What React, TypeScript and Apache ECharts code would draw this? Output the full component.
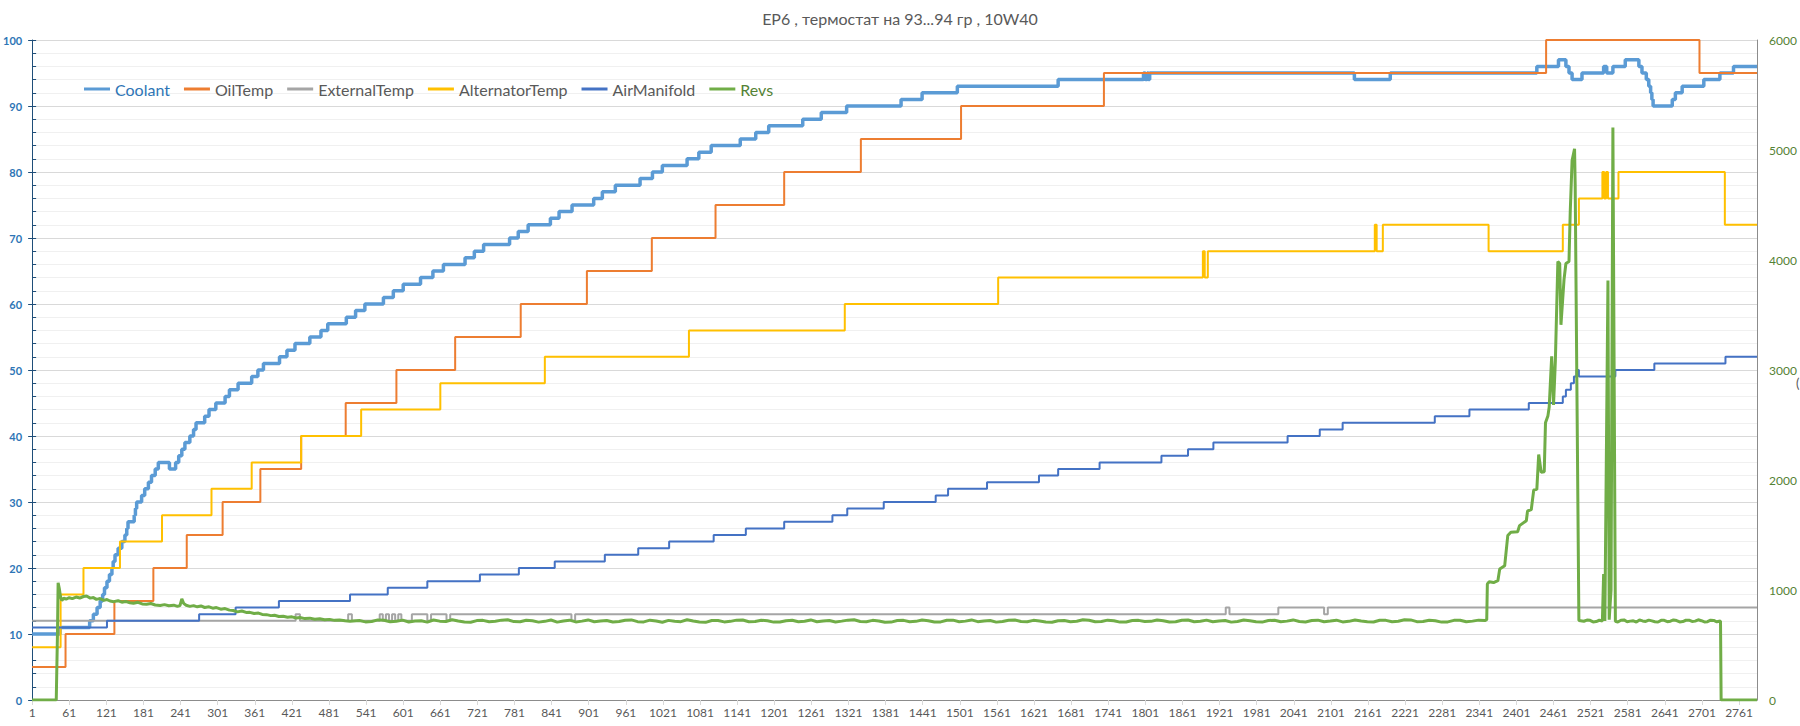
import React, { useEffect, useRef } from "react";
import * as echarts from "echarts";

const TITLE = "EP6 , термостат на 93...94 гр , 10W40";
const SAMPLE_COUNT = 2790;
const CATEGORIES: string[] = Array.from({ length: SAMPLE_COUNT }, (_, i) => String(i + 1));

const SERIES_NAMES = ["Coolant", "OilTemp", "ExternalTemp", "AlternatorTemp", "AirManifold", "Revs"];
const LEFT_TICKS = [0, 100, 10];
const RIGHT_TICKS = [0, 6000, 1000];

// [sample number, value] : value holds from this sample until the next break
const COOLANT: [number, number][] = [
  [1, 10], [46, 11], [94, 12], [100, 13], [106, 14], [111, 15], [115, 16], [118, 17], [122, 18], [126, 19],
  [130, 20], [132, 21], [135, 22], [140, 23], [146, 24], [151, 25], [154, 26], [156, 27], [166, 28], [168, 29],
  [170, 30], [178, 31], [183, 32], [189, 33], [194, 34], [200, 35], [205, 36], [223, 35], [233, 36], [238, 37],
  [243, 38], [248, 39], [256, 40], [262, 41], [266, 42], [280, 43], [287, 44], [298, 45], [313, 46], [320, 47],
  [334, 48], [356, 49], [366, 50], [375, 51], [401, 52], [413, 53], [426, 54], [450, 55], [468, 56], [479, 57],
  [509, 58], [524, 59], [539, 60], [569, 61], [585, 62], [601, 63], [629, 64], [649, 65], [666, 66], [701, 67],
  [716, 68], [731, 69], [773, 70], [787, 71], [803, 72], [839, 73], [853, 74], [874, 75], [909, 76], [923, 77],
  [944, 78], [984, 79], [1004, 80], [1020, 81], [1060, 82], [1079, 83], [1099, 84], [1146, 85], [1171, 86], [1192, 87],
  [1247, 88], [1277, 89], [1318, 90], [1406, 91], [1440, 92], [1497, 93], [1660, 94], [1798, 95], [1801, 94], [1804, 95],
  [1806, 94], [1808, 95], [2139, 94], [2197, 95], [2434, 96], [2469, 97], [2481, 96], [2486, 95], [2491, 94], [2507, 95],
  [2542, 96], [2547, 95], [2557, 96], [2577, 97], [2599, 96], [2604, 95], [2611, 94], [2615, 93], [2618, 92], [2620, 91],
  [2622, 90], [2653, 91], [2658, 92], [2669, 93], [2704, 94], [2730, 95], [2752, 96], [2790, 96],
];

const OIL_TEMP: [number, number][] = [
  [1, 5], [55, 10], [134, 15], [197, 20], [251, 25], [309, 30], [370, 35], [436, 40], [508, 45], [590, 50],
  [685, 55], [791, 60], [898, 65], [1003, 70], [1106, 75], [1217, 80], [1341, 85], [1503, 90], [1734, 95], [2449, 100],
  [2697, 95], [2790, 95],
];

const EXTERNAL_TEMP: [number, number][] = [
  [1, 12], [427, 13], [434, 12], [512, 13], [518, 12], [563, 13], [568, 12], [573, 13], [578, 12], [583, 13],
  [588, 12], [593, 13], [598, 12], [615, 13], [640, 12], [646, 13], [671, 12], [677, 13], [873, 12], [879, 13],
  [1931, 14], [1937, 13], [2016, 14], [2090, 13], [2096, 14], [2790, 14],
];

const ALTERNATOR_TEMP: [number, number][] = [
  [1, 8], [47, 16], [84, 20], [143, 24], [211, 28], [291, 32], [356, 36], [436, 40], [533, 44], [661, 48],
  [830, 52], [1063, 56], [1315, 60], [1563, 64], [1894, 68], [1897, 64], [1902, 68], [2172, 72], [2175, 68], [2185, 72],
  [2356, 68], [2476, 72], [2502, 76], [2540, 80], [2543, 76], [2546, 80], [2549, 76], [2566, 80], [2738, 72], [2790, 72],
];

const AIR_MANIFOLD: [number, number][] = [
  [1, 11], [122, 12], [271, 13], [330, 14], [400, 15], [515, 16], [576, 17], [640, 18], [725, 19], [788, 20],
  [846, 21], [927, 22], [981, 23], [1031, 24], [1103, 25], [1155, 26], [1217, 27], [1295, 28], [1319, 29], [1378, 30],
  [1462, 31], [1482, 32], [1545, 33], [1629, 34], [1660, 35], [1727, 36], [1827, 37], [1870, 38], [1911, 39], [2031, 40],
  [2083, 41], [2120, 42], [2269, 43], [2325, 44], [2421, 45], [2476, 46], [2481, 47], [2489, 48], [2494, 49], [2498, 50],
  [2502, 49], [2561, 50], [2624, 51], [2739, 52], [2790, 52],
];

// [sample number, rpm]
const REVS: [number, number][] = [
  [1, 0], [40, 0], [42, 620], [43, 1065], [45, 1010], [47, 935], [49, 905], [52, 925], [56, 918], [61, 930],
  [66, 922], [72, 936], [78, 927], [84, 941], [89, 945], [95, 926], [100, 931], [105, 915], [111, 922], [117, 906],
  [122, 913], [127, 900], [133, 894], [140, 903], [146, 889], [152, 896], [159, 884], [165, 879], [172, 888], [179, 873],
  [186, 870], [193, 877], [200, 864], [208, 860], [215, 867], [222, 857], [230, 862], [236, 851], [240, 858], [243, 920],
  [246, 878], [250, 861], [256, 851], [262, 858], [268, 847], [274, 855], [280, 841], [287, 847], [293, 835], [299, 840],
  [306, 826], [313, 831], [320, 817], [326, 814], [333, 801], [340, 809], [347, 796], [353, 797], [360, 786], [367, 790],
  [373, 778], [380, 776], [387, 767], [393, 770], [400, 759], [407, 761], [414, 752], [421, 756], [428, 746], [434, 750],
  [442, 740], [450, 744], [458, 734], [466, 738], [474, 729], [482, 733], [490, 724], [498, 728], [507, 721], [515, 716],
  [530, 722], [540, 710], [550, 713], [560, 728], [570, 725], [580, 711], [590, 716], [600, 726], [610, 709], [620, 718],
  [630, 721], [640, 708], [650, 727], [660, 717], [670, 714], [680, 729], [690, 719], [700, 710], [710, 707], [720, 722],
  [730, 724], [740, 711], [750, 716], [760, 726], [770, 729], [780, 713], [790, 712], [800, 725], [810, 720], [820, 708],
  [830, 715], [840, 727], [850, 708], [860, 719], [870, 726], [880, 710], [890, 717], [900, 728], [910, 711], [920, 718],
  [930, 723], [940, 709], [950, 714], [960, 725], [970, 728], [980, 712], [990, 710], [1000, 726], [1010, 719], [1020, 707],
  [1030, 724], [1040, 715], [1050, 712], [1060, 729], [1070, 718], [1080, 709], [1090, 706], [1100, 723], [1110, 722], [1120, 710],
  [1130, 715], [1140, 726], [1150, 727], [1160, 711], [1170, 713], [1180, 725], [1190, 720], [1200, 708], [1210, 709], [1220, 721],
  [1230, 725], [1240, 712], [1250, 716], [1260, 728], [1270, 711], [1280, 718], [1290, 723], [1300, 709], [1310, 717], [1320, 726],
  [1330, 729], [1340, 714], [1350, 712], [1360, 724], [1370, 719], [1380, 707], [1390, 708], [1400, 722], [1410, 724], [1420, 711],
  [1430, 715], [1440, 727], [1450, 721], [1460, 709], [1470, 710], [1480, 725], [1490, 726], [1500, 712], [1510, 717], [1520, 728],
  [1530, 712], [1540, 719], [1550, 722], [1560, 708], [1570, 714], [1580, 725], [1590, 727], [1600, 713], [1610, 711], [1620, 724],
  [1630, 719], [1640, 710], [1650, 707], [1660, 721], [1670, 723], [1680, 712], [1690, 716], [1700, 729], [1710, 725], [1720, 711],
  [1730, 713], [1740, 726], [1750, 720], [1760, 708], [1770, 709], [1780, 722], [1790, 724], [1800, 713], [1810, 715], [1820, 727],
  [1830, 721], [1840, 709], [1850, 711], [1860, 725], [1870, 727], [1880, 712], [1890, 716], [1900, 726], [1910, 712], [1920, 719],
  [1930, 723], [1940, 708], [1950, 714], [1960, 727], [1970, 720], [1980, 711], [1990, 708], [2000, 723], [2010, 725], [2020, 712],
  [2030, 717], [2040, 728], [2050, 713], [2060, 709], [2070, 722], [2080, 726], [2090, 711], [2100, 718], [2110, 726], [2120, 710],
  [2130, 715], [2140, 727], [2150, 719], [2160, 712], [2170, 709], [2180, 725], [2190, 724], [2200, 711], [2210, 716], [2220, 729],
  [2230, 728], [2240, 712], [2250, 713], [2260, 725], [2270, 720], [2280, 708], [2290, 710], [2300, 724], [2310, 725], [2320, 711],
  [2330, 717], [2340, 726], [2350, 722], [2353, 730], [2354, 1055], [2357, 1075], [2364, 1068], [2371, 1085], [2374, 1190], [2382, 1220],
  [2387, 1495], [2392, 1525], [2403, 1530], [2406, 1585], [2417, 1630], [2419, 1718], [2425, 1730], [2429, 1910], [2434, 1915], [2437, 2232],
  [2441, 2070], [2446, 2075], [2448, 2520], [2452, 2585], [2454, 2664], [2458, 3124], [2461, 2682], [2464, 3088], [2468, 3986], [2471, 3968],
  [2473, 3411], [2478, 3824], [2481, 3968], [2486, 3986], [2488, 4435], [2491, 4903], [2495, 5010], [2496, 4687], [2502, 722], [2510, 716],
  [2515, 727], [2520, 724], [2525, 710], [2530, 713], [2535, 725], [2540, 719], [2542, 1144], [2544, 718], [2549, 3814], [2551, 730],
  [2554, 1000], [2557, 5205], [2561, 716], [2565, 709], [2570, 725], [2575, 728], [2580, 712], [2585, 717], [2590, 720], [2595, 709],
  [2600, 727], [2605, 719], [2610, 714], [2615, 726], [2620, 719], [2625, 711], [2630, 709], [2635, 724], [2640, 724], [2645, 712],
  [2650, 716], [2655, 728], [2660, 722], [2665, 710], [2670, 713], [2675, 725], [2680, 726], [2685, 714], [2690, 717], [2695, 729],
  [2700, 721], [2705, 710], [2710, 712], [2715, 726], [2720, 723], [2725, 711], [2731, 718], [2732, 0], [2790, 0],
];

const COLORS = ["#5B9BD5", "#ED7D31", "#A5A5A5", "#FFC000", "#4472C4", "#70AD47"];
const WIDTHS = [3.5, 2, 2, 2, 2, 3];
const FONT = "Lato";

const toData = (pts: [number, number][]) => pts.map(([c, v]) => [String(c), v]);

export default function App() {
  const ref = useRef<HTMLDivElement>(null);

  useEffect(() => {
    document.body.style.margin = "0";
    if (!ref.current) return;
    const chart = echarts.init(ref.current, undefined, { renderer: "svg" });
    const stepSets = [COOLANT, OIL_TEMP, EXTERNAL_TEMP, ALTERNATOR_TEMP, AIR_MANIFOLD];
    const series: any[] = stepSets.map((pts, i) => ({
      name: SERIES_NAMES[i],
      type: "line",
      step: "end",
      data: toData(pts),
      symbol: "none",
      showSymbol: false,
      xAxisIndex: 0,
      yAxisIndex: 0,
      z: 2 + i,
      lineStyle: { color: COLORS[i], width: WIDTHS[i], join: "bevel" },
      itemStyle: { color: COLORS[i] },
    }));
    series.push({
      name: SERIES_NAMES[5],
      type: "line",
      data: toData(REVS),
      symbol: "none",
      showSymbol: false,
      xAxisIndex: 0,
      yAxisIndex: 1,
      z: 10,
      lineStyle: { color: COLORS[5], width: WIDTHS[5] },
      itemStyle: { color: COLORS[5] },
    });

    chart.setOption({
      animation: false,
      textStyle: { fontFamily: FONT },
      title: {
        text: TITLE,
        left: "center",
        top: 5,
        textStyle: { fontFamily: FONT, fontSize: 16, fontWeight: "normal", color: "#595959" },
      },
      legend: {
        left: 79,
        top: 76,
        icon: "rect",
        itemWidth: 26,
        itemHeight: 3,
        itemGap: 14,
        textStyle: { fontFamily: FONT, fontSize: 16, color: "#595959" },
        data: SERIES_NAMES.map((n, i) => ({
          name: n,
          textStyle: { color: i === 0 ? "#2E75B6" : i === 5 ? "#548235" : "#595959" },
        })),
      },
      grid: { left: 32, right: 43, top: 40, bottom: 26, containLabel: false },
      xAxis: [
        {
          type: "category",
          data: CATEGORIES,
          boundaryGap: false,
          position: "bottom",
          axisLine: { show: true, onZero: false, lineStyle: { color: "#D9D9D9" } },
          axisTick: { show: true, interval: 59, length: 5, lineStyle: { color: "#D9D9D9" } },
          axisLabel: { interval: 59, color: "#595959", fontSize: 12, margin: 6, fontFamily: FONT },
          splitLine: { show: false },
        },
        {
          type: "category",
          data: CATEGORIES,
          boundaryGap: false,
          position: "top",
          axisLine: { show: true, lineStyle: { color: "#8C8C8C" } },
          axisTick: { show: false },
          axisLabel: { show: false },
          splitLine: { show: false },
        },
      ],
      yAxis: [
        {
          type: "value",
          min: LEFT_TICKS[0],
          max: LEFT_TICKS[1],
          interval: LEFT_TICKS[2],
          position: "left",
          axisLine: { show: true, lineStyle: { color: "#1F4E79" } },
          axisTick: { show: true, length: 4, lineStyle: { color: "#1F4E79" } },
          minorTick: { show: false, splitNumber: 5 },
          splitLine: { show: true, lineStyle: { color: "#D9D9D9" } },
          minorSplitLine: { show: true, lineStyle: { color: "#F0F0F0" } },
          axisLabel: { color: "#2E75B6", fontWeight: "bold", fontSize: 11, margin: 10, fontFamily: FONT },
        },
        {
          type: "value",
          min: RIGHT_TICKS[0],
          max: RIGHT_TICKS[1],
          interval: RIGHT_TICKS[2],
          position: "right",
          axisLine: { show: true, lineStyle: { color: "#8C8C8C" } },
          axisTick: { show: false },
          splitLine: { show: false },
          axisLabel: {
            color: "#548235",
            fontSize: 12,
            margin: 12,
            fontFamily: FONT,
            formatter: (v: number) => String(v),
          },
        },
        {
          type: "value",
          min: 0,
          max: 100,
          interval: 2,
          position: "left",
          axisLine: { show: false },
          axisTick: { show: true, inside: true, length: 4, lineStyle: { color: "#1F4E79" } },
          axisLabel: { show: false },
          splitLine: { show: false },
        },
      ],
      graphic: [
        {
          type: "text",
          left: 1796,
          top: 376,
          style: { text: "(", fill: "#595959", font: `13px ${FONT}` },
        },
      ],
      series,
    });
    return () => chart.dispose();
  }, []);

  return <div ref={ref} style={{ width: 1800, height: 726 }} />;
}
